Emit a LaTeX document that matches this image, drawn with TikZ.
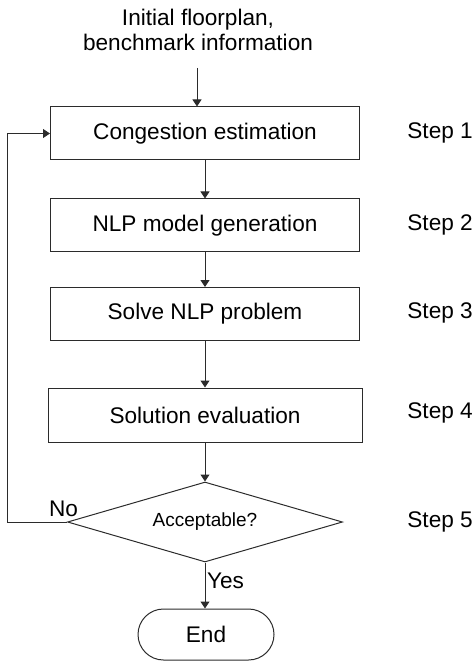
\documentclass[tikz,border=0pt]{standalone}
\usepackage{fontspec}
\setmainfont{Liberation Sans}
\usepackage{tikz}
\usetikzlibrary{arrows.meta,positioning,shapes.geometric,shapes.misc}
\definecolor{lineink}{HTML}{2B2B2B}

\begin{document}
\begin{tikzpicture}[x=0.5pt, y=-0.5pt,
    every node/.style={font=\fontsize{11.3}{12.5}\selectfont},
    stepbox/.style={draw=lineink, line width=0.5pt, minimum width=154.5pt, minimum height=26.5pt, inner sep=0pt},
    decide/.style={diamond, draw=lineink, line width=0.5pt, aspect=3.4, minimum width=137.5pt, minimum height=40pt, inner sep=0pt, font=\fontsize{9.5}{11}\selectfont},
    term/.style={rounded rectangle, draw=lineink, line width=0.5pt, minimum width=68pt, minimum height=25.5pt, inner sep=0pt},
    steplabel/.style={anchor=west, inner sep=0pt},
    flow/.style={draw=lineink, line width=0.5pt, -{Triangle[length=3.5pt, width=4.5pt]}}]
\useasboundingbox (0,0) rectangle (473,662);

% Input
\node[align=center, inner sep=0pt] (input) at (198,30) {Initial floorplan,\\benchmark information};
\coordinate (inlet) at (197,68);

% Flow boxes
\node[stepbox] (s1) at (205,133.5) {Congestion estimation};
\node[stepbox] (s2) at (205,225.5) {NLP model generation};
\node[stepbox] (s3) at (205,314) {Solve NLP problem};
\node[stepbox, minimum width=157pt, minimum height=27pt] (s4) at (205,415) {Solution evaluation};
\node[decide] (dec) at (205,522) {Acceptable?};
\node[term] (end) at (206,634.5) {End};

% Step labels
\node[steplabel] (l1) at (407,133) {Step 1};
\node[steplabel] (l2) at (407,225) {Step 2};
\node[steplabel] (l3) at (407,313) {Step 3};
\node[steplabel] (l4) at (407,413) {Step 4};
\node[steplabel] (l5) at (407,522) {Step 5};

% Connectors
\draw[flow] (inlet) -- (inlet |- s1.north);
\draw[flow] (s1) -- (s2);
\draw[flow] (s2) -- (s3);
\draw[flow] (s3) -- (s4);
\draw[flow] (s4) -- (dec);
\draw[flow] (dec.south) -- (dec.south |- end.north);
\draw[flow] (dec.west) -- ++(-60,0) |- (s1.west);

% Branch labels
\node[inner sep=0pt] (no) at (63.5,509) {No};
\node[inner sep=0pt] (yes) at (225.5,581) {Yes};
\end{tikzpicture}
\end{document}
